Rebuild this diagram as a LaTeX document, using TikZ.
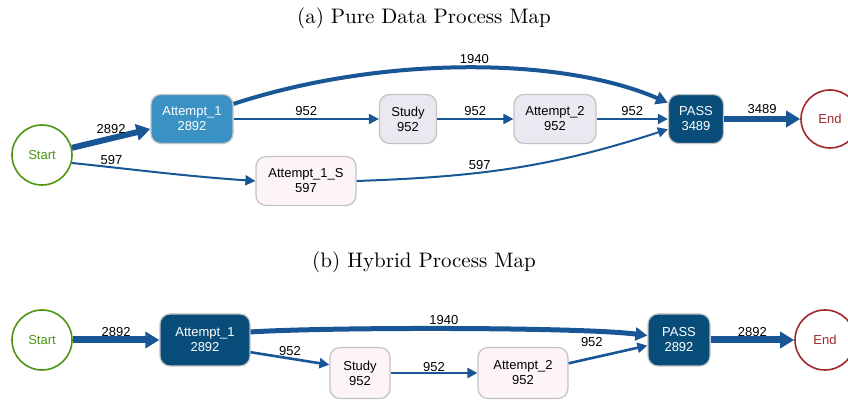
\documentclass[tikz,border=0pt]{standalone}
\usepackage{fontspec}
\newfontfamily\mapfont{Liberation Sans}
\usetikzlibrary{arrows.meta}
\definecolor{flow}{RGB}{25,86,150}
\definecolor{darkact}{RGB}{8,77,122}
\definecolor{lightact}{RGB}{58,146,196}
\definecolor{lavact}{RGB}{236,232,242}
\definecolor{pinkact}{RGB}{253,244,250}
\definecolor{boxgray}{RGB}{195,195,195}
\definecolor{startgreen}{RGB}{77,150,20}
\definecolor{endred}{RGB}{160,40,45}
\begin{document}
\begin{tikzpicture}[x=0.5pt, y=0.5pt,
    every node/.style={font=\mapfont\fontsize{6.5}{7.5}\selectfont},
    title/.style={font=\rmfamily\fontsize{10.5}{12}\selectfont},
    act/.style={draw=boxgray, line width=0.6pt, rounded corners=5pt, align=center, inner sep=1pt, minimum height=24.5pt},
    startev/.style={circle, draw=startgreen, line width=0.8pt, text=startgreen, minimum size=30pt, inner sep=0pt},
    endev/.style={circle, draw=endred, line width=0.8pt, text=endred, minimum size=29pt, inner sep=0pt},
    flowthin/.style={draw=flow, line width=1pt, -{Triangle[length=5pt,width=5pt]}},
    flowmid/.style={draw=flow, line width=2pt, -{Triangle[length=6pt,width=6.5pt]}},
    flowthick/.style={draw=flow, line width=3pt, -{Triangle[length=7pt,width=8pt]}},
    lbl/.style={above, inner sep=1pt}
  ]
    \useasboundingbox (0,0) rectangle (848,401);
    % (a) pure data
    \node[title] (titlea) at (424,383) {(a) Pure Data Process Map};
    \node[startev] (starta) at (42,246) {Start};
    \node[act, fill=lightact, text=white, minimum width=41pt] (att1a) at (192,282) {Attempt\_1\\2892};
    \node[act, fill=lavact, minimum width=28.5pt] (studya) at (408,282) {Study\\952};
    \node[act, fill=lavact, minimum width=41pt] (att2a) at (555,282) {Attempt\_2\\952};
    \node[act, fill=darkact, text=white, minimum width=27.5pt] (passa) at (696,282) {PASS\\3489};
    \node[endev] (enda) at (830,282) {End};
    \node[act, fill=pinkact, minimum width=50pt] (att1sa) at (306,220) {Attempt\_1\_S\\597};
    \draw[flowthick] (starta) -- (att1a) node[lbl, pos=0.5] {2892};
    \draw[flowthin] (starta.-15) to[out=-6, in=176] node[lbl, pos=0.2] {597} (att1sa.west);
    \draw[flowthin] (att1a) -- (studya) node[lbl, midway] {952};
    \draw[flowthin] (studya) -- (att2a) node[lbl, midway] {952};
    \draw[flowthin] (att2a) -- (passa) node[lbl, midway] {952};
    \draw[flowmid] (att1a.20) .. controls (380,345) and (560,345) .. (passa.150) node[lbl, pos=0.52] {1940};
    \draw[flowthin] (att1sa.east) to[out=2, in=198] node[lbl, pos=0.38] {597} (passa.200);
    \draw[flowthick] (passa) -- (enda) node[lbl, midway] {3489};
    % (b) hybrid
    \node[title] (titleb) at (424,139) {(b) Hybrid Process Map};
    \node[startev] (startb) at (42,61) {Start};
    \node[act, fill=darkact, text=white, minimum width=45pt, minimum height=26pt] (att1b) at (205,61) {Attempt\_1\\2892};
    \node[act, fill=pinkact, minimum width=30pt, minimum height=25.5pt] (studyb) at (360,28) {Study\\952};
    \node[act, fill=pinkact, minimum width=45pt, minimum height=25.5pt] (att2b) at (523,28) {Attempt\_2\\952};
    \node[act, fill=darkact, text=white, minimum width=31pt, minimum height=26pt] (passb) at (679,61) {PASS\\2892};
    \node[endev, minimum size=30pt] (endb) at (825,61) {End};
    \draw[flowthick, line width=3.5pt] (startb) -- (att1b) node[lbl, midway, inner sep=0pt] {2892};
    \draw[flowmid, line width=2.5pt] (att1b.10) .. controls (330,74) and (580,74) .. (passb.172) node[lbl, pos=0.48] {1940};
    \draw[flowthin, line width=1.3pt] (att1b.-15) -- (studyb.165) node[lbl, midway] {952};
    \draw[flowthin, line width=1.3pt] (studyb) -- (att2b) node[lbl, midway, inner sep=0pt] {952};
    \draw[flowthin, line width=1.3pt] (att2b.12) -- (passb.190) node[lbl, midway, left=1pt, yshift=6pt] {952};
    \draw[flowthick, line width=3.5pt] (passb) -- (endb) node[lbl, midway, inner sep=0pt] {2892};
\end{tikzpicture}
\end{document}
